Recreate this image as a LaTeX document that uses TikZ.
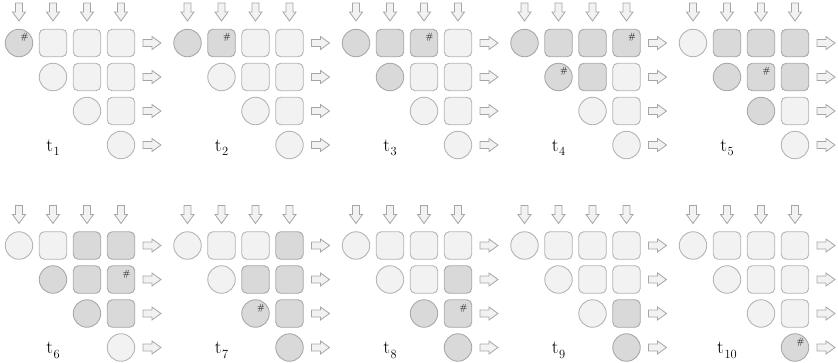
\documentclass[tikz,border=0pt]{standalone}
\usetikzlibrary{calc}
\definecolor{lightfill}{HTML}{F2F2F2}
\definecolor{darkfill}{HTML}{D9D9D9}
\definecolor{lightedge}{HTML}{B4B4B4}
\definecolor{darkedge}{HTML}{A8A8A8}
\definecolor{arrowedge}{HTML}{A6A6A6}
\tikzset{
  cellnode/.style={line width=0.9pt, minimum size=27.5pt, inner sep=0pt, rounded corners=5pt},
  blockarrow/.style={draw=arrowedge, fill=lightfill, line width=0.8pt, line join=miter},
  hashmark/.style={font=\fontsize{9}{9}\selectfont, inner sep=0pt},
  steplabel/.style={font=\fontsize{19}{19}\selectfont, inner sep=0pt, anchor=base}
}
\makeatletter
% #1 panel index, #2 x offset, #3 y offset, #4 list of dark cells
\newcommand\drawpanel[4]{%
  \begin{scope}[shift={(#2,#3)}]
    \foreach \c in {1,...,4}{
      \draw[blockarrow] ({19+34*(\c-1)-3.5},3) -- ++(7,0) -- ++(0,9) -- ++(3,0)
        -- ++(-6.5,9) -- ++(-6.5,-9) -- ++(3,0) -- cycle;
    }
    \foreach \r in {1,...,4}{
      \foreach \c in {\r,...,4}{
        \edef\cellchk{\noexpand\in@{,\r\c,}{,#4,}}\cellchk
        \ifin@\def\cfill{darkfill}\def\cedge{darkedge}\else\def\cfill{lightfill}\def\cedge{lightedge}\fi
        \ifnum\r=\c\relax\def\cshape{circle}\else\def\cshape{rectangle}\fi
        \node[cellnode, shape=\cshape, fill=\cfill, draw=\cedge] (p#1-\r\c)
          at ({19+34*(\c-1)},{43+34*(\r-1)}) {};
      }
      \draw[blockarrow] (143,{43+34*(\r-1)-3.5}) -- ++(9,0) -- ++(0,-3) -- ++(9,6.5)
        -- ++(-9,6.5) -- ++(0,-3) -- ++(-9,0) -- cycle;
    }
    \node[steplabel] (t#1) at (53,151)
      {t\kern0.6pt\raisebox{-4.5pt}{\fontsize{12.5}{12.5}\selectfont #1}};
  \end{scope}}
\makeatother
\newcommand\hashat[1]{\node[hashmark] at ([xshift=5.5pt,yshift=5.5pt]#1.center) {\#};}
\begin{document}
\begin{tikzpicture}[x=1pt,y=-1pt]
  \useasboundingbox (0,0) rectangle (838,362);
  \drawpanel{1}{0}{0}{11}
  \drawpanel{2}{168.5}{0}{11,12}
  \drawpanel{3}{337}{0}{11,12,13,22}
  \drawpanel{4}{505.5}{0}{11,12,13,14,22,23}
  \drawpanel{5}{674}{0}{12,13,14,22,23,24,33}
  \drawpanel{6}{0}{202.5}{13,14,22,23,24,33,34}
  \drawpanel{7}{168.5}{202.5}{14,23,24,33,34,44}
  \drawpanel{8}{337}{202.5}{24,33,34,44}
  \drawpanel{9}{505.5}{202.5}{34,44}
  \drawpanel{10}{674}{202.5}{44}
  \hashat{p1-11}
  \hashat{p2-12}
  \hashat{p3-13}
  \hashat{p4-14}
  \hashat{p4-22}
  \hashat{p5-23}
  \hashat{p6-24}
  \hashat{p7-33}
  \hashat{p8-34}
  \hashat{p10-44}
\end{tikzpicture}
\end{document}
